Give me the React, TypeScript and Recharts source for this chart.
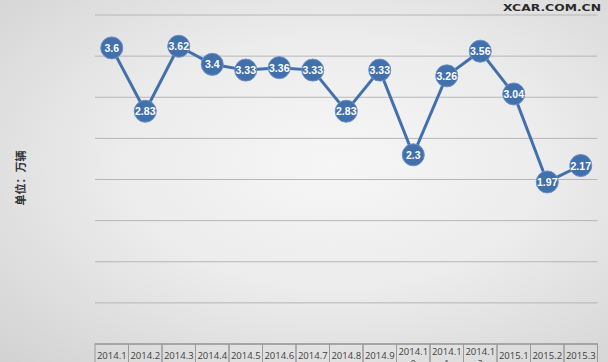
import React from 'react';
import { LineChart, Line, XAxis, YAxis, CartesianGrid, LabelList } from 'recharts';

const categories = ['2014.1','2014.2','2014.3','2014.4','2014.5','2014.6','2014.7','2014.8','2014.9','2014.10','2014.11','2014.12','2015.1','2015.2','2015.3'];
const sales = [3.6, 2.83, 3.62, 3.4, 3.33, 3.36, 3.33, 2.83, 3.33, 2.3, 3.26, 3.56, 3.04, 1.97, 2.17];
const yTicks = [0, 0.5, 1, 1.5, 2, 2.5, 3, 3.5, 4];
const yLabel = '单位：万辆';
const watermark = 'XCAR.COM.CN';

const data = categories.map((c, i) => ({ month: c, value: sales[i] }));

const BAND = 33.5;
const BLUE = '#4270ad';

const TableTick = (props: any) => {
  const { x, y, payload } = props;
  const label: string = payload.value;
  const wrap = label.length > 6;
  const lines = wrap ? [label.slice(0, 6), label.slice(6)] : [label];
  return (
    <g>
      <rect x={x - BAND / 2} y={y} width={BAND} height={40} fill="none" stroke="#9a9a9a" strokeWidth={1} />
      {lines.map((t, i) => (
        <text key={i} x={x} y={wrap ? y + 11 + i * 12 : y + 15} textAnchor="middle" fontSize={9.5}
          fontFamily="'Open Sans', 'Liberation Sans', sans-serif" fill="#404040">{t}</text>
      ))}
    </g>
  );
};

const Dot = (props: any) => {
  const { cx, cy, index } = props;
  return <circle key={index} cx={cx} cy={cy} r={11} fill={BLUE} stroke="#6b8fc4" strokeWidth={1} />;
};

const ValueLabel = (props: any) => {
  const { x, y, value } = props;
  return (
    <text x={x} y={y + 4} textAnchor="middle" fontSize={10.5} fontWeight="bold"
      fontFamily="'Liberation Sans Narrow', 'Liberation Sans', sans-serif" fill="#ffffff">{value}</text>
  );
};

export default function App() {
  return (
    <div style={{ position: 'absolute', left: 0, top: 0, width: 608, height: 362, overflow: 'hidden',
      background: 'radial-gradient(ellipse at 55% 45%, #f6f6f6 0%, #ececec 45%, #d2d2d2 100%)' }}>
      <LineChart width={608} height={362} data={data} margin={{ top: 15, right: 10.5, bottom: 0, left: 95 }}>
        <CartesianGrid vertical={false} stroke="#b6b6b6" strokeWidth={1} />
        <YAxis hide domain={[0, 4]} ticks={yTicks} />
        <XAxis dataKey="month" scale="band" interval={0} height={18} tickLine={false} tickSize={0} tickMargin={0}
          axisLine={{ stroke: '#9a9a9a' }} tick={<TableTick />} />
        <Line type="linear" dataKey="value" stroke={BLUE} strokeWidth={3} dot={<Dot />} activeDot={false}
          isAnimationActive={false}>
          <LabelList dataKey="value" content={<ValueLabel />} />
        </Line>
        <text x={20} y={178} transform="rotate(-90 20 178)" textAnchor="middle" dominantBaseline="central"
          fontSize={11} fontWeight="bold" fontFamily="'Noto Sans CJK SC', sans-serif" fill="#333333">{yLabel}</text>
        <text x={503} y={11} fontSize={9} fontWeight="bold" textLength={98} lengthAdjust="spacingAndGlyphs"
          fontFamily="'DejaVu Sans', sans-serif" fill="#2a2a2a">{watermark}</text>
      </LineChart>
    </div>
  );
}
